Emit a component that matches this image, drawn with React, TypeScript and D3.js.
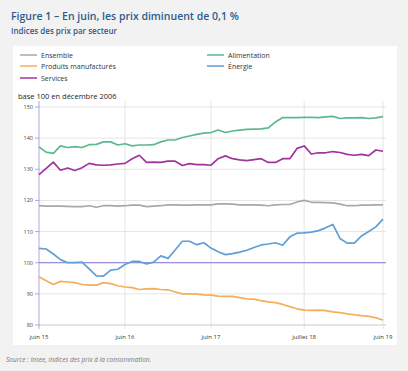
import React from 'react';
import * as d3 from 'd3';

// monthly index, juin 2015 .. juin 2019 (49 points)
const ensemble = [
  118.3, 118.2, 118.2, 118.2, 118.1, 118.0, 118.0, 118.3, 117.8, 118.3, 118.3, 118.2,
  118.3, 118.5, 118.5, 118.0, 118.2, 118.3, 118.6, 118.6, 118.5, 118.5, 118.6, 118.6,
  118.6, 118.9, 118.9, 118.8, 118.6, 118.6, 118.6, 118.5, 118.3, 118.6, 118.7, 118.7,
  119.5, 120.0, 119.4, 119.4, 119.3, 119.2, 118.8, 118.3, 118.3, 118.5, 118.5, 118.6, 118.6,
];
const alimentation = [
  137.2, 135.5, 135.1, 137.5, 137.0, 137.3, 137.0, 137.9, 138.0, 138.8, 138.8, 137.8,
  138.2, 137.5, 137.8, 137.8, 137.9, 138.8, 139.4, 139.4, 140.2, 140.7, 141.2, 141.6,
  141.8, 142.6, 141.8, 142.3, 142.6, 142.8, 142.9, 143.0, 143.3, 145.2, 146.6, 146.6,
  146.6, 146.7, 146.7, 146.6, 146.8, 147.0, 146.3, 146.5, 146.5, 146.6, 146.3, 146.5, 146.9,
];
const manufactures = [
  95.5, 94.2, 93.0, 94.0, 93.8, 93.6, 93.0, 92.8, 92.8, 93.6, 93.3, 92.6,
  92.2, 92.0, 91.4, 91.6, 91.7, 91.4, 91.3, 90.6, 90.0, 90.0, 89.9, 89.7,
  89.6, 89.3, 89.2, 89.2, 88.8, 88.4, 88.3, 87.8, 87.4, 87.2, 86.6, 85.9,
  85.2, 84.8, 84.7, 84.8, 84.6, 84.2, 84.0, 83.6, 83.3, 83.0, 82.8, 82.3, 81.6,
];
const energie = [
  104.6, 104.4, 102.8, 101.0, 100.0, 100.0, 100.2, 98.0, 95.8, 95.7, 97.6, 97.9,
  99.4, 100.4, 100.4, 99.6, 100.2, 102.2, 101.4, 104.1, 106.9, 106.9, 105.8, 106.4,
  104.7, 103.5, 102.6, 102.9, 103.4, 104.0, 104.9, 105.7, 106.0, 106.4, 105.6, 108.3,
  109.5, 109.6, 109.8, 110.3, 111.2, 112.3, 107.8, 106.3, 106.3, 108.6, 110.0, 111.5, 114.0,
];
const services = [
  128.3, 130.3, 132.3, 129.7, 130.4, 129.6, 130.5, 131.9, 131.4, 131.3, 131.4, 131.7,
  131.9, 133.4, 134.5, 132.2, 132.3, 132.2, 132.6, 132.6, 131.2, 131.8, 131.5, 131.5,
  131.3, 133.4, 134.3, 133.4, 133.0, 132.8, 133.1, 133.4, 132.2, 132.2, 133.4, 133.4,
  136.7, 137.5, 134.9, 135.3, 135.3, 135.7, 135.4, 134.8, 134.5, 134.8, 134.4, 136.2, 135.8,
];

const yTicks = [80, 90, 100, 110, 120, 130, 140, 150];
const xTickIdx = [0, 12, 24, 37, 48];
const xTickLabels = ['juin 15', 'juin 16', 'juin 17', 'juillet 18', 'juin 19'];

const series = [
  { name: 'Ensemble', values: ensemble, color: '#a8a8a8' },
  { name: 'Alimentation', values: alimentation, color: '#5cb98c' },
  { name: 'Produits manufacturés', values: manufactures, color: '#f6ad5c' },
  { name: 'Énergie', values: energie, color: '#5f9fd6' },
  { name: 'Services', values: services, color: '#a1339f' },
];

const font = '"Open Sans", sans-serif';

export default function App() {
  const x = d3.scaleLinear().domain([0, 48]).range([39, 383]);
  const y = d3.scaleLinear().domain([80, 150]).range([325, 107]);
  const line = d3.line<number>().x((_, i) => x(i)).y(d => y(d));

  const legendPos = [
    [20, 55], [207, 55], [20, 66], [207, 66], [20, 78],
  ];

  return (
    <svg width={408} height={371} style={{ position: 'absolute', left: 0, top: 0, fontFamily: font }}>
      <rect width={408} height={371} fill="#f2f2f2" />
      <rect x={13} y={46} width={384} height={299} fill="#ffffff" />
      <text x={11} y={20} fontSize={10.5} fontWeight={600} fill="#2d5c8c">
        Figure 1 – En juin, les prix diminuent de 0,1 %
      </text>
      <text x={11} y={34} fontSize={8} fontWeight={600} fill="#2d5c8c">
        Indices des prix par secteur
      </text>

      {series.map((s, i) => (
        <g key={s.name} transform={`translate(${legendPos[i][0]},${legendPos[i][1]})`}>
          <line x1={0} x2={17} y1={0} y2={0} stroke={s.color} strokeWidth={1.5} />
          <text x={21} y={2.5} fontSize={7} fill="#333">{s.name}</text>
        </g>
      ))}

      <text x={18} y={99} fontSize={7.5} fill="#222">base 100 en décembre 2006</text>

      {yTicks.map(t => (
        <g key={t}>
          <line x1={x(0)} x2={386} y1={y(t)} y2={y(t)} stroke="#dedede" strokeWidth={0.8} />
          <line x1={35} x2={x(0)} y1={y(t)} y2={y(t)} stroke="#9c8fd9" strokeWidth={0.8} />
          <text x={33} y={y(t) + 2} fontSize={5.5} textAnchor="end" fill="#444">{t}</text>
        </g>
      ))}
      {xTickIdx.map((t, i) => (
        <g key={t}>
          {i > 0 && (
            <line x1={x(t)} x2={x(t)} y1={y(150) - 6} y2={y(80) + 4} stroke="#dedede" strokeWidth={0.8} />
          )}
          <text x={x(t)} y={338.5} fontSize={6} textAnchor="middle" fill="#333">
            {xTickLabels[i]}
          </text>
        </g>
      ))}
      <line x1={x(0)} x2={386} y1={y(80)} y2={y(80)} stroke="#cfcfcf" strokeWidth={0.8} />
      <line x1={x(0)} x2={x(0)} y1={y(150) - 6} y2={y(80) + 4} stroke="#9c8fd9" strokeWidth={0.8} />
      <line x1={x(0)} x2={386} y1={y(100)} y2={y(100)} stroke="#9c8fd9" strokeWidth={1.2} />

      {series.map(s => (
        <path key={s.name} d={line(s.values) || ''} fill="none" stroke={s.color} strokeWidth={1.7} strokeLinejoin="round" />
      ))}

      <text x={6} y={362} fontSize={6.5} fontStyle="italic" fill="#777">
        Source : Insee, indices des prix à la consommation.
      </text>
    </svg>
  );
}
